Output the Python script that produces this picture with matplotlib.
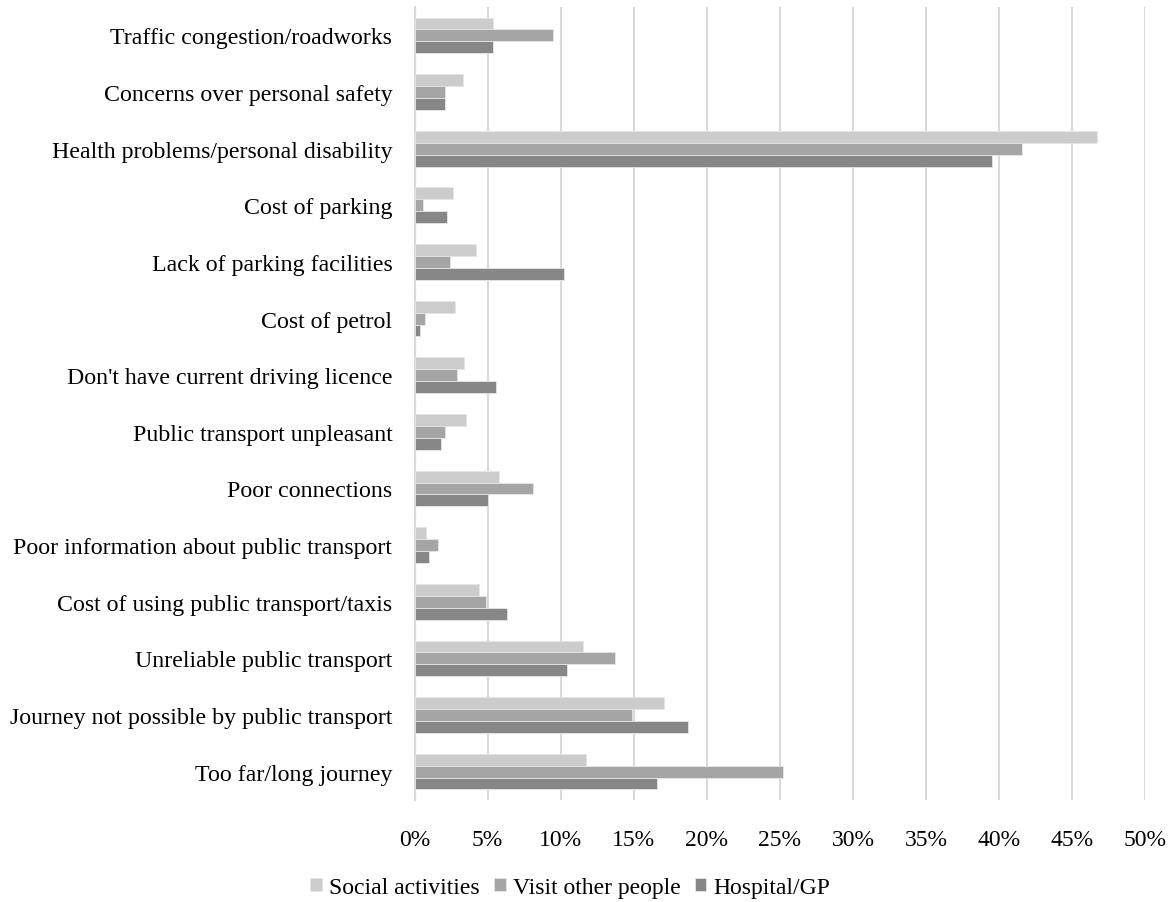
import numpy as np
import matplotlib.pyplot as plt
from matplotlib.ticker import PercentFormatter

# Categories, top to bottom as shown
categories = [
    "Traffic congestion/roadworks",
    "Concerns over personal safety",
    "Health problems/personal disability",
    "Cost of parking",
    "Lack of parking facilities",
    "Cost of petrol",
    "Don't have current driving licence",
    "Public transport unpleasant",
    "Poor connections",
    "Poor information about public transport",
    "Cost of using public transport/taxis",
    "Unreliable public transport",
    "Journey not possible by public transport",
    "Too far/long journey",
]

social = [5.4, 3.3, 46.7, 2.6, 4.2, 2.8, 3.4, 3.5, 5.8, 0.8, 4.4, 11.5, 17.1, 11.7]
visit = [9.5, 2.1, 41.6, 0.6, 2.4, 0.7, 2.9, 2.1, 8.1, 1.6, 4.9, 13.7, 14.9, 25.2]
hospital = [5.4, 2.1, 39.5, 2.2, 10.2, 0.4, 5.6, 1.8, 5.0, 1.0, 6.3, 10.4, 18.7, 16.6]

series = [
    ("Social activities", social, "#cccccc"),
    ("Visit other people", visit, "#a5a5a5"),
    ("Hospital/GP", hospital, "#878787"),
]

plt.rcParams['font.family'] = ['Liberation Serif', 'DejaVu Serif']

fig, ax = plt.subplots(figsize=(11.71, 9.03), dpi=100)
fig.subplots_adjust(left=0.354, right=0.978, top=0.991, bottom=0.113)

y = np.arange(len(categories))
h = 0.21
for i, (name, vals, col) in enumerate(series):
    ax.barh(y + (i - 1) * h, vals, height=h, color=col, label=name,
            edgecolor="#e6e6e6", linewidth=0.6, zorder=3)

ax.set_yticks(y)
ax.set_yticklabels(categories, fontsize=17.2)
ax.set_ylim(len(categories) - 0.5, -0.5)

ax.set_xlim(0, 50)
ax.set_xticks(np.arange(0, 51, 5))
ax.xaxis.set_major_formatter(PercentFormatter(decimals=0))
ax.tick_params(axis='x', labelsize=17, length=0, pad=21)
ax.tick_params(axis='y', length=0, pad=16)
ax.grid(axis='x', color="#d9d9d9", linewidth=1.5, zorder=0)

for s in ["top", "right", "bottom"]:
    ax.spines[s].set_visible(False)
ax.spines["left"].set_color("#d9d9d9")
ax.spines["left"].set_linewidth(1.5)

ax.legend(loc="upper center", bbox_to_anchor=(0.213, -0.07), ncol=3,
          frameon=False, fontsize=17, handlelength=0.5, handleheight=0.5,
          handletextpad=0.3, columnspacing=0.6)

fig.savefig("out.png", dpi=100)
